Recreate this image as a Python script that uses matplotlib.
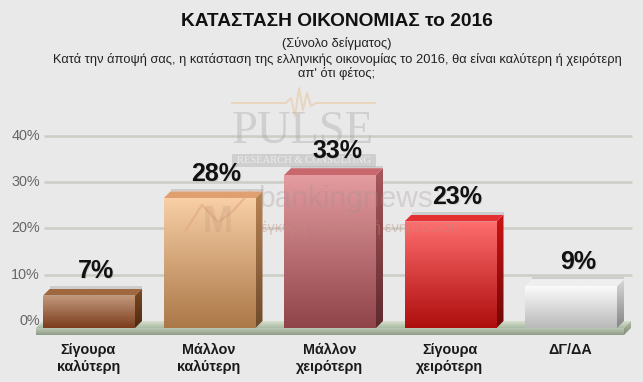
"""
Bar chart with a fake 3D look: greek survey on the economy in 2016.
"""

import matplotlib
matplotlib.use("Agg")
import matplotlib.pyplot as plt
import numpy as np
from matplotlib.colors import LinearSegmentedColormap
from matplotlib.patches import Polygon, Rectangle

categories = ["Σίγουρα\nκαλύτερη", "Μάλλον\nκαλύτερη", "Μάλλον\nχειρότερη", "Σίγουρα\nχειρότερη", "ΔΓ/ΔΑ"]
values = [7, 28, 33, 23, 9]
y_ticks = [0, 10, 20, 30, 40]
y_tick_labels = ["0%", "10%", "20%", "30%", "40%"]

# front top, front bottom, side top, side bottom, lid colour
bar_colors = [
    ("#c49a7e", "#7a3c1c", "#7a4a22", "#4f2a10", "#a0683f"),
    ("#f8cfa6", "#ab7848", "#b98453", "#6e4a2c", "#e0a070"),
    ("#e49ca0", "#8f444a", "#a8585c", "#5e2a2e", "#c8686e"),
    ("#ff6e6e", "#ae0d0d", "#cc1414", "#6e0808", "#e43030"),
    ("#fbfbfb", "#b9b9b9", "#d8d8d8", "#858585", "#efefef"),
]

# pulse line of the watermark, in pixels from the top left
pulse_x = [232, 286, 291, 295, 299, 303, 307, 311, 316, 375]
pulse_y = [103, 103, 98, 116, 88, 110, 93, 106, 103, 103]
roof_x = [186, 202, 218, 232, 250]
roof_y = [230, 205, 222, 212, 192]

W, H = 643, 382
PX_PER_PCT = 4.63
PX_PER_CAT = 120.5
BASE_Y = 328
FIRST_X = 89

plt.rcParams["font.family"] = ["Liberation Sans", "DejaVu Sans"]

fig = plt.figure(figsize=(W / 100, H / 100), dpi=100, facecolor="#e9e9e9")
ax = fig.add_axes([0, 0, 1, 1])
ax.set_xlim(-FIRST_X / PX_PER_CAT, (W - FIRST_X) / PX_PER_CAT)
ax.set_ylim((BASE_Y - H) / PX_PER_PCT, BASE_Y / PX_PER_PCT)
ax.set_aspect("auto")
ax.axis("off")

bar_w = 92 / PX_PER_CAT
dx = 7 / PX_PER_CAT
dy = 7 / PX_PER_PCT


def px_x(x):
    return (x - FIRST_X) / PX_PER_CAT


def px_y(y):
    return (BASE_Y - y) / PX_PER_PCT


def gradient(poly, top, bottom, zorder):
    """Fill a polygon with a vertical gradient."""
    pts = np.array(poly)
    cmap = LinearSegmentedColormap.from_list("g", [top, bottom])
    im = ax.imshow(
        np.linspace(0, 1, 128).reshape(-1, 1), cmap=cmap, aspect="auto", origin="upper",
        extent=(pts[:, 0].min(), pts[:, 0].max(), pts[:, 1].min(), pts[:, 1].max()),
        zorder=zorder,
    )
    patch = Polygon(poly, closed=True, transform=ax.transData, facecolor="none", edgecolor="none")
    ax.add_patch(patch)
    im.set_clip_path(patch)


# imshow resets the limits, keep them
xlim, ylim = ax.get_xlim(), ax.get_ylim()

# grid lines sit on the back wall
ax.hlines([t + dy for t in y_ticks[1:]], px_x(44), px_x(632), color="#cccdc5", lw=1.8, zorder=1)

# floor
floor_l, floor_r = px_x(36), px_x(631)
gradient([(floor_l, 0), (floor_l + dx, dy), (floor_r, dy), (floor_r - dx, 0)], "#d8e0cf", "#a9bba3", 2)
gradient(
    [(floor_l, 0), (floor_r - dx, 0), (floor_r - dx, -1.5), (floor_l, -1.5)], "#bcc8b4", "#8f9a88", 2
)
gradient(
    [(floor_r - dx, 0), (floor_r, dy), (floor_r, dy - 1.5), (floor_r - dx, -1.5)], "#b4c0a8", "#7f8a72", 2
)

for i, (v, c) in enumerate(zip(values, bar_colors)):
    l, r = i - bar_w / 2, i + bar_w / 2
    # soft shadow behind the lid
    ax.add_patch(Polygon([(l + dx, v + dy), (r + dx, v + dy), (r + dx, v + dy + 0.5), (l + dx, v + dy + 0.5)],
                         closed=True, facecolor="#9a9a9a", alpha=0.35, edgecolor="none", zorder=3))
    gradient([(r, 0), (r + dx, dy), (r + dx, v + dy), (r, v)], c[2], c[3], 4)
    gradient([(l, v), (l + dx, v + dy), (r + dx, v + dy), (r, v)], c[4], c[4], 4)
    gradient([(l, 0), (r, 0), (r, v), (l, v)], c[0], c[1], 5)
    # value label with a little shadow
    ax.text(i + dx + 0.7 / PX_PER_CAT, v + dy + 3.7 - 0.15, f"{v}%", ha="center", va="center", fontsize=18,
            fontweight="bold", color="#9c9c9c", alpha=0.3, zorder=7)
    ax.text(i + dx, v + dy + 3.7, f"{v}%", ha="center", va="center", fontsize=18,
            fontweight="bold", color="#111111", zorder=8)
    ax.text(i - 0.005, -3.2, categories[i], ha="center", va="top", fontsize=10.4, fontweight="bold",
            color="#1a1a1a", linespacing=1.25, zorder=8)

for t, lab in zip(y_ticks, y_tick_labels):
    ax.text(px_x(40), t + dy, lab, ha="right", va="center", fontsize=10.4, color="#666666", zorder=8)

# watermarks over the plot
ax.plot(px_x(np.array(pulse_x)), px_y(np.array(pulse_y)), color="#e8d5bd", lw=1.4, zorder=1)
ax.text(px_x(303), px_y(132), "PULSE", ha="center", va="center", fontsize=33.5, family="Liberation Serif",
        color="#a8a8a8", alpha=0.4, zorder=6)
ax.add_patch(Rectangle((px_x(232), px_y(167)), 144 / PX_PER_CAT, 13 / PX_PER_PCT, facecolor="#b0b0b0",
                       alpha=0.45, edgecolor="none", zorder=6))
ax.text(px_x(304), px_y(160.5), "RESEARCH & CONSULTING", ha="center", va="center", fontsize=7.6,
        family="Liberation Serif", color="#ffffff", alpha=0.6, zorder=6)
ax.plot(px_x(np.array(roof_x)), px_y(np.array(roof_y)), color="#e0a27e", lw=1.5, alpha=0.55, zorder=6)
ax.text(px_x(218), px_y(222), "M", ha="center", va="center", fontsize=26, fontweight="bold", color="#c49a7e",
        alpha=0.3, zorder=6)
ax.text(px_x(346), px_y(199), "bankingnews", ha="center", va="center", fontsize=21.5,
        color="#9a8f8f", alpha=0.28, zorder=6)
ax.text(px_x(360), px_y(228), "έγκυρη οικονομική ενημέρωση", ha="center", va="center", fontsize=10.5,
        color="#c48a80", alpha=0.42, zorder=6)

ax.set_xlim(xlim)
ax.set_ylim(ylim)

# titles use figure pixel positions
fig.text(337 / W, 1 - 22 / H, "ΚΑΤΑΣΤΑΣΗ ΟΙΚΟΝΟΜΙΑΣ το 2016", ha="center", va="center", fontsize=13.8,
         fontweight="bold", color="#111111")
fig.text(337 / W, 1 - 44 / H, "(Σύνολο δείγματος)", ha="center", va="center", fontsize=9.3, color="#222222")
fig.text(337 / W, 1 - 59 / H, "Κατά την άποψή σας, η κατάσταση της ελληνικής οικονομίας το 2016, θα είναι καλύτερη ή χειρότερη",
         ha="center", va="center", fontsize=9.25, color="#222222")
fig.text(337 / W, 1 - 74 / H, "απ' ότι φέτος;", ha="center", va="center", fontsize=9.25, color="#222222")

fig.savefig("out.png", dpi=100, facecolor=fig.get_facecolor())
plt.close(fig)
